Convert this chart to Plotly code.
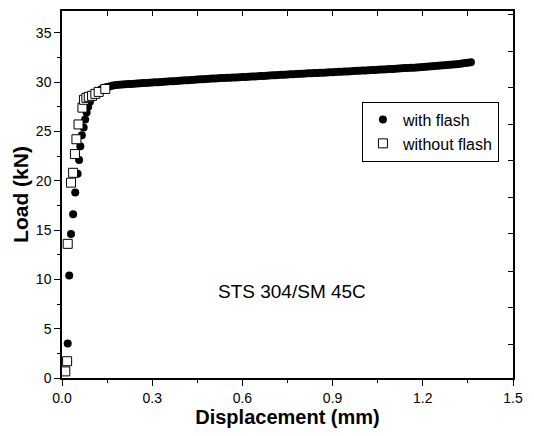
import plotly.graph_objects as go

# with flash (filled circles)
disp_flash = [0.019, 0.024, 0.030, 0.037, 0.044, 0.052, 0.057, 0.061, 0.066, 0.072,
              0.077, 0.082, 0.087, 0.093, 0.100, 0.105, 0.11, 0.115, 0.12, 0.125,
              0.13, 0.135, 0.14, 0.145, 0.15, 0.16, 0.17, 0.18, 0.19,
              0.20, 0.21, 0.22, 0.23, 0.24, 0.25, 0.26, 0.27, 0.28, 0.29,
              0.30, 0.31, 0.32, 0.33, 0.34, 0.35, 0.36, 0.37, 0.38, 0.39,
              0.40, 0.41, 0.42, 0.43, 0.44, 0.45, 0.46, 0.47, 0.48, 0.49,
              0.50, 0.51, 0.52, 0.53, 0.54, 0.55, 0.56, 0.57, 0.58, 0.59,
              0.60, 0.61, 0.62, 0.63, 0.64, 0.65, 0.66, 0.67, 0.68, 0.69,
              0.70, 0.71, 0.72, 0.73, 0.74, 0.75, 0.76, 0.77, 0.78, 0.79,
              0.80, 0.81, 0.82, 0.83, 0.84, 0.85, 0.86, 0.87, 0.88, 0.89,
              0.90, 0.91, 0.92, 0.93, 0.94, 0.95, 0.96, 0.97, 0.98, 0.99,
              1.00, 1.01, 1.02, 1.03, 1.04, 1.05, 1.06, 1.07, 1.08, 1.09,
              1.10, 1.11, 1.12, 1.13, 1.14, 1.15, 1.16, 1.17, 1.18, 1.19,
              1.20, 1.21, 1.22, 1.23, 1.24, 1.25, 1.26, 1.27, 1.28, 1.29,
              1.30, 1.31, 1.32, 1.33, 1.34, 1.35, 1.36]
load_flash = [3.5, 10.4, 14.6, 16.6, 18.8, 20.7, 22.1, 23.5, 24.6, 25.4,
              26.2, 26.9, 27.5, 28.0, 28.4, 28.6, 28.8, 28.95, 29.05, 29.15,
              29.25, 29.33, 29.4, 29.45, 29.5, 29.58, 29.64, 29.7, 29.73,
              29.75, 29.77, 29.79, 29.81, 29.83, 29.85, 29.87, 29.89, 29.91, 29.93,
              29.95, 29.97, 29.99, 30.01, 30.03, 30.05, 30.07, 30.09, 30.11, 30.13,
              30.15, 30.17, 30.19, 30.21, 30.23, 30.25, 30.27, 30.29, 30.31, 30.33,
              30.35, 30.36, 30.38, 30.40, 30.41, 30.43, 30.44, 30.46, 30.47, 30.49,
              30.50, 30.52, 30.54, 30.55, 30.57, 30.59, 30.61, 30.62, 30.64, 30.66,
              30.68, 30.69, 30.71, 30.73, 30.75, 30.76, 30.78, 30.80, 30.82, 30.83,
              30.85, 30.86, 30.88, 30.89, 30.91, 30.92, 30.94, 30.95, 30.97, 30.98,
              31.00, 31.01, 31.03, 31.05, 31.07, 31.08, 31.10, 31.12, 31.14, 31.15,
              31.17, 31.18, 31.20, 31.21, 31.23, 31.25, 31.27, 31.28, 31.30, 31.31,
              31.33, 31.35, 31.37, 31.39, 31.41, 31.42, 31.44, 31.46, 31.48, 31.50,
              31.52, 31.54, 31.57, 31.59, 31.62, 31.64, 31.67, 31.69, 31.72, 31.75,
              31.78, 31.81, 31.84, 31.88, 31.92, 31.96, 32.00]

# without flash (open squares)
disp_noflash = [0.011, 0.017, 0.019, 0.030, 0.037, 0.043, 0.048, 0.055, 0.068, 0.073,
                0.081, 0.089, 0.100, 0.111, 0.122, 0.144]
load_noflash = [0.67, 1.7, 13.6, 19.8, 20.8, 22.7, 24.2, 25.7, 27.4, 28.2,
                28.4, 28.5, 28.6, 28.8, 29.0, 29.3]

x_ticks = [0.0, 0.3, 0.6, 0.9, 1.2, 1.5]
x_ticklabels = ["0.0", "0.3", "0.6", "0.9", "1.2", "1.5"]
y_ticks = [0, 5, 10, 15, 20, 25, 30, 35]
right_ticks = [3.4, 7.1, 10.8, 14.6, 18.3, 22.0, 25.7, 29.4, 33.1, 36.8]

X_RANGE = [0, 1.5]
Y_RANGE = [0, 37.2]
FONT = "Liberation Sans, Arial, sans-serif"

fig = go.Figure()
fig.add_trace(go.Scatter(
    x=disp_flash, y=load_flash, mode="markers", name="with flash",
    marker=dict(symbol="circle", size=8, color="black", line=dict(width=0)),
))
fig.add_trace(go.Scatter(
    x=disp_noflash, y=load_noflash, mode="markers", name="without flash",
    marker=dict(symbol="square", size=9, color="white", line=dict(width=1, color="black")),
))
# invisible trace to activate the top/right frame axes
fig.add_trace(go.Scatter(
    x=disp_flash, y=load_flash, mode="markers", xaxis="x2", yaxis="y2",
    marker=dict(opacity=0), showlegend=False, hoverinfo="skip",
))

fig.add_annotation(
    x=0.765, y=8.8, xref="x", yref="y", text="STS 304/SM 45C", showarrow=False,
    font=dict(family=FONT, size=19, color="black"),
)

fig.update_layout(
    width=534, height=436,
    margin=dict(l=62, r=11, t=11, b=56),
    paper_bgcolor="white", plot_bgcolor="white",
    font=dict(family=FONT, color="black"),
    xaxis=dict(
        range=X_RANGE, tickvals=x_ticks, ticktext=x_ticklabels,
        ticks="outside", ticklen=6, tickwidth=1.2, tickcolor="black",
        minor=dict(dtick=0.15, ticks="outside", ticklen=3, tickcolor="black", tickwidth=1.2, showgrid=False),
        showline=True, linecolor="black", linewidth=1.5, showgrid=False, zeroline=False,
        tickfont=dict(size=14, family=FONT),
        title=dict(text="<b>Displacement (mm)</b>", font=dict(size=20, family=FONT), standoff=5),
    ),
    yaxis=dict(
        range=Y_RANGE, tickvals=y_ticks,
        ticks="outside", ticklen=6, tickwidth=1.2, tickcolor="black",
        minor=dict(dtick=2.5, ticks="outside", ticklen=3, tickcolor="black", tickwidth=1.2, showgrid=False),
        showline=True, linecolor="black", linewidth=1.5, showgrid=False, zeroline=False,
        tickfont=dict(size=14, family=FONT),
        title=dict(text="<b>Load (kN)</b>", font=dict(size=21, family=FONT), standoff=2),
    ),
    xaxis2=dict(
        range=X_RANGE, overlaying="x", side="top", dtick=0.15, tick0=0,
        ticks="inside", ticklen=5, tickwidth=1.2, tickcolor="black",
        showticklabels=False, showline=True, linecolor="black", linewidth=1.5,
        showgrid=False, zeroline=False,
    ),
    yaxis2=dict(
        range=Y_RANGE, overlaying="y", side="right", tickvals=right_ticks,
        ticks="inside", ticklen=5, tickwidth=1.2, tickcolor="black",
        showticklabels=False, showline=True, linecolor="black", linewidth=1.5,
        showgrid=False, zeroline=False,
    ),
    legend=dict(
        x=0.665, y=0.753, xanchor="left", yanchor="top",
        bgcolor="white", bordercolor="black", borderwidth=1,
        font=dict(size=16, family=FONT), tracegroupgap=0,
    ),
    showlegend=True,
)

fig.write_html("out.html")
